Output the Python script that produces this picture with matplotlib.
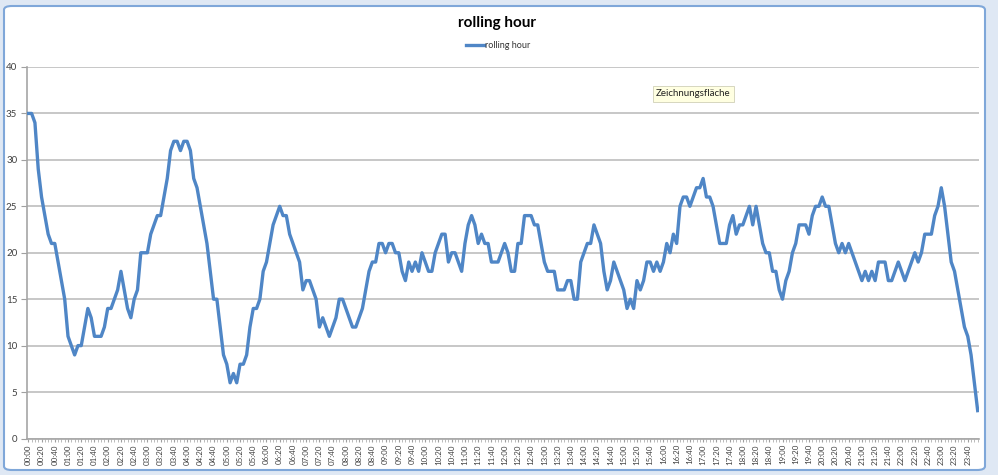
import matplotlib
matplotlib.use("Agg")
import matplotlib.pyplot as plt
from matplotlib.patches import FancyBboxPatch

plt.rcParams['font.family'] = ['Lato', 'DejaVu Sans']

# Werte alle 5 Minuten (288 Punkte)
rolling_hour = [
    35, 35, 34, 29, 26, 24, 22, 21, 21, 19,
    17, 15, 11, 10, 9, 10, 10, 12, 14, 13,
    11, 11, 11, 12, 14, 14, 15, 16, 18, 16,
    14, 13, 15, 16, 20, 20, 20, 22, 23, 24,
    24, 26, 28, 31, 32, 32, 31, 32, 32, 31,
    28, 27, 25, 23, 21, 18, 15, 15, 12, 9,
    8, 6, 7, 6, 8, 8, 9, 12, 14, 14,
    15, 18, 19, 21, 23, 24, 25, 24, 24, 22,
    21, 20, 19, 16, 17, 17, 16, 15, 12, 13,
    12, 11, 12, 13, 15, 15, 14, 13, 12, 12,
    13, 14, 16, 18, 19, 19, 21, 21, 20, 21,
    21, 20, 20, 18, 17, 19, 18, 19, 18, 20,
    19, 18, 18, 20, 21, 22, 22, 19, 20, 20,
    19, 18, 21, 23, 24, 23, 21, 22, 21, 21,
    19, 19, 19, 20, 21, 20, 18, 18, 21, 21,
    24, 24, 24, 23, 23, 21, 19, 18, 18, 18,
    16, 16, 16, 17, 17, 15, 15, 19, 20, 21,
    21, 23, 22, 21, 18, 16, 17, 19, 18, 17,
    16, 14, 15, 14, 17, 16, 17, 19, 19, 18,
    19, 18, 19, 21, 20, 22, 21, 25, 26, 26,
    25, 26, 27, 27, 28, 26, 26, 25, 23, 21,
    21, 21, 23, 24, 22, 23, 23, 24, 25, 23,
    25, 23, 21, 20, 20, 18, 18, 16, 15, 17,
    18, 20, 21, 23, 23, 23, 22, 24, 25, 25,
    26, 25, 25, 23, 21, 20, 21, 20, 21, 20,
    19, 18, 17, 18, 17, 18, 17, 19, 19, 19,
    17, 17, 18, 19, 18, 17, 18, 19, 20, 19,
    20, 22, 22, 22, 24, 25, 27, 25, 22, 19,
    18, 16, 14, 12, 11, 9, 6, 3,
]
times = [f"{m // 60:02d}:{m % 60:02d}" for m in range(0, 1440, 5)]
tick_labels = times[::4]
y_ticks = [0, 5, 10, 15, 20, 25, 30, 35, 40]

W, H = 998, 475
fig = plt.figure(figsize=(W / 100, H / 100), dpi=100, facecolor='#dfe8f4')

# weisser Diagrammbereich mit blauem Rand
frame = FancyBboxPatch((4 / W, 5 / H), 981 / W, 464 / H,
                       boxstyle="round,pad=0,rounding_size=0.008",
                       transform=fig.transFigure, fc='white', ec='#7fa7d9', lw=1.5,
                       zorder=-10)
fig.patches.append(frame)

ax = fig.add_axes([27 / W, 1 - 438.5 / H, 952 / W, 371.5 / H])
ax.set_zorder(5)
ax.set_facecolor('none')
x = list(range(len(rolling_hour)))
ax.plot(x, rolling_hour, color='#4f86c6', lw=2.4, solid_joinstyle='round',
        label='rolling hour', zorder=3)

ax.set_ylim(0, 40)
ax.set_xlim(-0.4, 287.4)
ax.set_yticks(y_ticks)
ax.yaxis.grid(True, color='#bebebe', lw=1.2)
ax.set_axisbelow(True)
ax.set_xticks(range(0, len(times), 4))
ax.set_xticklabels(tick_labels, rotation=90, fontsize=5.7, color='#404040')
ax.set_xticks(x, minor=True)
ax.tick_params(axis='x', which='major', length=2.5, color='#a0a0a0', pad=1.5)
ax.tick_params(axis='x', which='minor', length=2, color='#b0b0b0', width=0.6)
ax.tick_params(axis='y', length=4, color='#a0a0a0', labelsize=7, labelcolor='#404040', pad=3)
for side in ('top', 'right'):
    ax.spines[side].set_visible(False)
for side in ('left', 'bottom'):
    ax.spines[side].set_color('#a6a6a6')
    ax.spines[side].set_linewidth(1.2)

fig.text(497 / W, 1 - 23 / H, 'rolling hour', ha='center', va='center',
         fontsize=11, fontweight='bold', color='black')
fig.legend(loc='center', bbox_to_anchor=(498 / W, 1 - 46 / H), frameon=False,
           fontsize=6.5, handlelength=2.0, handletextpad=0.1, labelcolor='#333333')

fig.text(656 / W, 1 - 94 / H, 'Zeichnungsfläche', ha='left', va='center', fontsize=7,
         color='#222222', zorder=10,
         bbox=dict(boxstyle='square,pad=0.35', fc='#ffffe1', ec='#d0d0b8', lw=0.6))

fig.savefig('out.png', dpi=100, facecolor=fig.get_facecolor())
